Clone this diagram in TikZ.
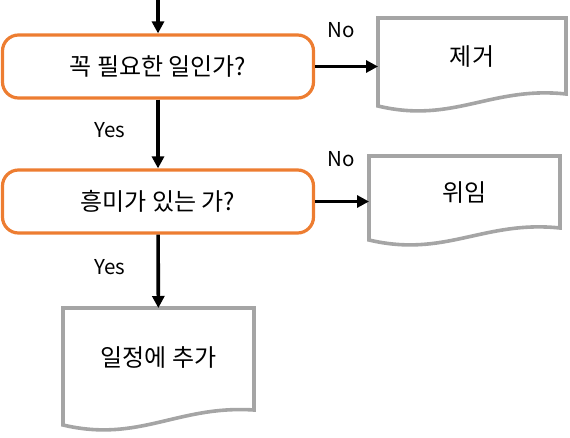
\documentclass[tikz,border=0pt]{standalone}
\usepackage{fontspec}
\setmainfont{Noto Sans CJK KR}
\usetikzlibrary{arrows.meta,calc}
\definecolor{decorange}{HTML}{ED7D31}
\definecolor{docgray}{HTML}{A5A5A5}
\newcommand{\docoutline}[3]{%
\draw[docline] (#1.north west) -- (#1.north east) -- ([yshift=-#2pt+#3pt]#1.north east)
  .. controls ([yshift=-#2pt+20pt]$(#1.north east)!0.4!(#1.north west)$)
  and ([yshift=-#2pt-18pt]$(#1.north west)!0.4!(#1.north east)$) .. ([yshift=-#2pt]#1.north west) -- cycle;}
\begin{document}
\begin{tikzpicture}[x=1pt,y=-1pt,
  decision/.style={rectangle, draw=decorange, line width=3.2pt, rounded corners=16pt,
    minimum width=311pt, minimum height=63pt, font=\fontsize{24}{28}\selectfont},
  docbox/.style={rectangle, inner sep=0pt, outer sep=0pt, anchor=north, font=\fontsize{24}{28}\selectfont},
  docline/.style={draw=docgray, line width=3.6pt, line join=miter},
  flow/.style={line width=3.6pt, -{Triangle[length=12pt,width=12pt]}},
  answer/.style={font=\fontsize{20.5}{24}\selectfont}]
\useasboundingbox (0,0) rectangle (570,437);
\coordinate (start) at (158,0);
\node[decision] (needed) at (158,66.5) {꼭 필요한 일인가?};
\node[decision] (interest) at (158,201.5) {흥미가 있는 가?};
\node[docbox, minimum width=188pt, minimum height=78pt] (remove) at (472,18) {제거};
\node[docbox, minimum width=191pt, minimum height=74pt] (delegate) at (464.5,156) {위임};
\node[docbox, minimum width=191pt, minimum height=100pt] (schedule) at (158.5,308) {일정에 추가};
\docoutline{remove}{88}{12}
\docoutline{delegate}{84}{12}
\docoutline{schedule}{117}{15}
\node[answer] (no1) at (341,30) {No};
\node[answer] (no2) at (341,159) {No};
\node[answer] (yes1) at (110,130) {Yes};
\node[answer] (yes2) at (110,267) {Yes};
\draw[flow] (start) -- (needed);
\draw[flow] (needed) -- (interest);
\draw[flow] (interest) -- (schedule);
\draw[flow] (needed.east) -- (needed.east -| remove.west);
\draw[flow] (interest.east) -- (interest.east -| delegate.west);
\end{tikzpicture}
\end{document}
